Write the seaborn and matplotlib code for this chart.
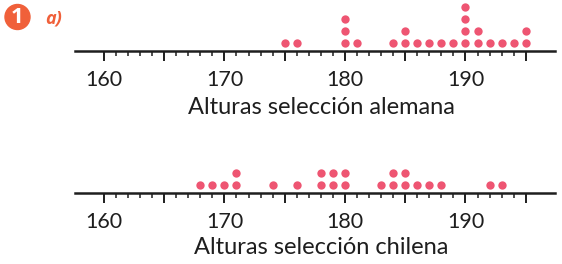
import matplotlib.pyplot as plt
import matplotlib.patches as mpatches
import numpy as np
import pandas as pd
import seaborn as sns

alemana = [175, 176, 180, 180, 180, 181, 184, 185, 185, 186, 187, 188, 189,
           190, 190, 190, 190, 191, 191, 192, 193, 194, 195, 195]
chilena = [168, 169, 170, 171, 171, 174, 176, 178, 178, 179, 179, 180, 180,
           183, 184, 184, 185, 185, 186, 187, 188, 192, 193]
titulos = ["Alturas selección alemana", "Alturas selección chilena"]
ticks_major = [160, 170, 180, 190]

DOT = "#EE5572"
ORANGE = "#F0603A"
INK = "#1e1e1e"
W, H = 562, 264


def stack(values):
    df = pd.DataFrame({"altura": values})
    df["nivel"] = df.groupby("altura").cumcount()
    return df


def dot_axis(fig, values, spine_px, title, title_px):
    # axes covers from the top of the figure area down to the spine line
    ax = fig.add_axes([75 / W, 1 - spine_px / H, 480 / W, 51 / H])
    df = stack(values)
    sns.scatterplot(data=df, x="altura", y="nivel", ax=ax, color=DOT,
                    s=36, linewidth=0, legend=False, clip_on=False)
    ax.set_xlim(157.6, 197.43)
    ax.set_ylim(-8 / 12, 43 / 12)
    for side in ["top", "left", "right"]:
        ax.spines[side].set_visible(False)
    ax.spines["bottom"].set_linewidth(1.8)
    ax.spines["bottom"].set_color(INK)
    ax.set_yticks([])
    ax.set_xticks(np.arange(160, 196, 5))
    ax.set_xticks(np.arange(160, 196, 1), minor=True)
    ax.set_xticklabels([str(t) if t in ticks_major else "" for t in np.arange(160, 196, 5)])
    ax.tick_params(axis="x", which="both", bottom=True, direction="out")
    ax.tick_params(axis="x", which="major", length=7.5, width=1.4,
                   color=INK, pad=6, labelsize=15.5, labelcolor=INK)
    ax.tick_params(axis="x", which="minor", length=3.8, width=1.1, color=INK)
    ax.set_xlabel("")
    ax.set_ylabel("")
    ax.patch.set_alpha(0)
    fig.text(321 / W, 1 - title_px / H, title, ha="center", va="center",
             fontsize=17, color=INK)
    return ax


sns.set_style("white")
plt.rcParams["font.family"] = ["Lato", "DejaVu Sans"]

fig = plt.figure(figsize=(W / 100, H / 100), dpi=100)

dot_axis(fig, alemana, 51, titulos[0], 107)
dot_axis(fig, chilena, 193, titulos[1], 248)

# numero del ejercicio
circ = mpatches.Circle((17.5 / 100, (H - 17) / 100), 0.125, color=ORANGE,
                       transform=fig.dpi_scale_trans)
fig.add_artist(circ)
fig.text(17.5 / W, 1 - 17.5 / H, "1", color="white", fontsize=16,
         fontweight="bold", ha="center", va="center",
         family=["Open Sans", "DejaVu Sans"])
fig.text(45 / W, 1 - 19 / H, "a)", color=ORANGE, fontsize=13,
         fontweight="bold", fontstyle="italic", ha="left", va="center",
         family=["Open Sans", "DejaVu Sans"])

fig.savefig("out.png", dpi=100)
